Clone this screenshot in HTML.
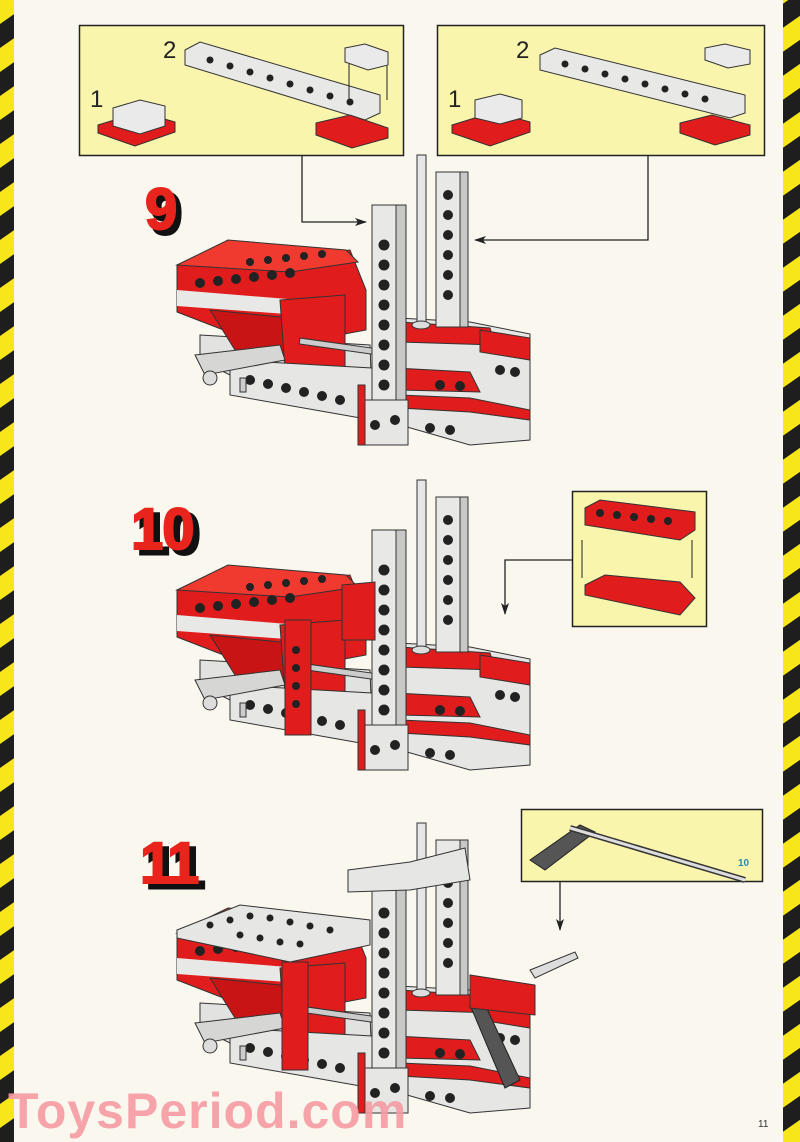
<!DOCTYPE html>
<html><head><meta charset="utf-8"><style>
html,body{margin:0;padding:0;width:800px;height:1142px;overflow:hidden;background:#f9f7ee;}
svg{display:block}
</style></head><body>
<svg width="800" height="1142" viewBox="0 0 800 1142" xmlns="http://www.w3.org/2000/svg" font-family="Liberation Sans, sans-serif">
<defs>
<pattern id="hz" width="14" height="48" patternUnits="userSpaceOnUse" patternTransform="skewY(-35)">
<rect width="14" height="48" fill="#f6e61a"/><rect y="24" width="14" height="24" fill="#1e1e1e"/>
</pattern>
<marker id="ar" markerWidth="12" markerHeight="8" refX="11" refY="4" orient="auto" markerUnits="userSpaceOnUse"><path d="M0,0 L12,4 L0,8 L3,4z" fill="#222"/></marker>
<g id="model">
 <polygon points="200,335 370,345 372,400 230,375 200,360" fill="#e2e2e0" stroke="#333" stroke-width="1"/>
 <polygon points="177,265 350,250 366,290 366,330 270,348 177,312" fill="#e01c1c" stroke="#333" stroke-width="1"/>
 <polygon points="177,265 228,240 346,250 358,262 290,272" fill="#f03a30" stroke="#333" stroke-width="1"/>
 <polygon points="177,290 300,300 300,315 177,306" fill="#e8e8e6"/>
 <polygon points="210,310 290,318 300,355 235,350" fill="#c81414" stroke="#333" stroke-width="1"/>
 <polygon points="280,300 345,295 345,368 285,370" fill="#e01c1c" stroke="#333" stroke-width="1"/>
 <polygon points="230,360 372,368 372,420 230,395" fill="#e6e6e4" stroke="#333" stroke-width="1"/>
 <g fill="#222">
  <circle cx="200" cy="283" r="5"/><circle cx="218" cy="281" r="5"/><circle cx="236" cy="279" r="5"/><circle cx="254" cy="277" r="5"/><circle cx="272" cy="275" r="5"/><circle cx="290" cy="273" r="5"/>
  <circle cx="250" cy="262" r="4"/><circle cx="268" cy="260" r="4"/><circle cx="286" cy="258" r="4"/><circle cx="304" cy="256" r="4"/><circle cx="322" cy="254" r="4"/>
  <circle cx="250" cy="380" r="5"/><circle cx="268" cy="384" r="5"/><circle cx="286" cy="388" r="5"/><circle cx="304" cy="392" r="5"/><circle cx="322" cy="396" r="5"/><circle cx="340" cy="400" r="5"/>
 </g>
 <polygon points="195,355 280,345 285,360 205,375" fill="#d6d6d4" stroke="#333"/>
 <circle cx="210" cy="378" r="7" fill="#ddd" stroke="#333"/>
 <rect x="240" y="378" width="6" height="14" fill="#ccc" stroke="#333"/>
 <rect x="300" y="338" width="80" height="6" fill="#ccc" stroke="#333" transform="rotate(8 300 338)"/>
 <polygon points="398,318 470,322 530,334 530,440 470,445 400,425" fill="#e6e6e4" stroke="#333" stroke-width="1"/>
 <polygon points="400,322 490,328 495,345 400,342" fill="#e01c1c" stroke="#333"/>
 <polygon points="480,330 530,338 530,360 480,352" fill="#e01c1c" stroke="#333"/>
 <polygon points="395,368 470,372 480,392 400,390" fill="#e01c1c" stroke="#333"/>
 <polygon points="400,395 470,398 530,410 530,420 470,412 400,408" fill="#e01c1c" stroke="#333"/>
 <g fill="#222"><circle cx="440" cy="385" r="5"/><circle cx="460" cy="386" r="5"/><circle cx="500" cy="370" r="5"/><circle cx="515" cy="372" r="5"/><circle cx="430" cy="428" r="5"/><circle cx="450" cy="430" r="5"/></g>
 <rect x="436" y="172" width="32" height="155" fill="#e8e8e6" stroke="#333"/>
 <rect x="460" y="172" width="8" height="155" fill="#c8c8c6" stroke="#333"/>
 <g fill="#222"><circle cx="448" cy="195" r="5"/><circle cx="448" cy="215" r="5"/><circle cx="448" cy="235" r="5"/><circle cx="448" cy="255" r="5"/><circle cx="448" cy="275" r="5"/><circle cx="448" cy="295" r="5"/></g>
 <rect x="417" y="155" width="9" height="170" fill="#e6e6e6" stroke="#333"/>
 <ellipse cx="421" cy="325" rx="9" ry="4" fill="#ddd" stroke="#333"/>
 <rect x="372" y="205" width="32" height="240" fill="#e8e8e6" stroke="#333"/>
 <rect x="396" y="205" width="10" height="240" fill="#c8c8c6" stroke="#333"/>
 <g fill="#222"><circle cx="384" cy="245" r="5.5"/><circle cx="384" cy="265" r="5.5"/><circle cx="384" cy="285" r="5.5"/><circle cx="384" cy="305" r="5.5"/><circle cx="384" cy="325" r="5.5"/><circle cx="384" cy="345" r="5.5"/><circle cx="384" cy="365" r="5.5"/><circle cx="384" cy="385" r="5.5"/></g>
 <rect x="358" y="400" width="50" height="45" fill="#e6e6e4" stroke="#333"/>
 <rect x="358" y="385" width="7" height="60" fill="#e01c1c" stroke="#333"/>
 <circle cx="375" cy="425" r="5" fill="#222"/><circle cx="395" cy="420" r="5" fill="#222"/>
</g>
</defs>

<rect x="0" y="0" width="14" height="1142" fill="url(#hz)"/>
<rect x="783" y="0" width="17" height="1142" fill="url(#hz)"/>

<rect x="79.5" y="25.5" width="324" height="130" fill="#faf5ad" stroke="#222" stroke-width="1.5"/>
<rect x="437.5" y="25.5" width="327" height="130" fill="#faf5ad" stroke="#222" stroke-width="1.5"/>
<rect x="572.5" y="491.5" width="134" height="135" fill="#faf5ad" stroke="#222" stroke-width="1.5"/>
<rect x="521.5" y="809.5" width="241" height="72" fill="#faf5ad" stroke="#222" stroke-width="1.5"/>

<text x="90" y="107" font-size="24" fill="#222">1</text>
<text x="163" y="58" font-size="24" fill="#222">2</text>
<polygon points="98,125 140,112 175,122 175,132 135,146 98,133" fill="#e01c1c" stroke="#333"/>
<polygon points="113,108 140,100 165,106 165,126 140,134 113,126" fill="#eaeaea" stroke="#333"/>
<polygon points="185,50 200,42 380,95 380,113 365,120 185,65" fill="#e8e8e6" stroke="#333"/>
<g fill="#222"><circle cx="210" cy="60" r="3.5"/><circle cx="230" cy="66" r="3.5"/><circle cx="250" cy="72" r="3.5"/><circle cx="270" cy="78" r="3.5"/><circle cx="290" cy="84" r="3.5"/><circle cx="310" cy="90" r="3.5"/><circle cx="330" cy="96" r="3.5"/><circle cx="350" cy="102" r="3.5"/></g>
<polygon points="316,123 350,115 388,128 388,138 352,148 316,135" fill="#e01c1c" stroke="#333"/>
<polygon points="345,48 365,44 388,52 388,65 368,70 345,62" fill="#eaeaea" stroke="#333"/>
<line x1="387" y1="66" x2="387" y2="100" stroke="#222"/>
<line x1="349" y1="64" x2="349" y2="100" stroke="#222"/>
<text x="448" y="107" font-size="24" fill="#222">1</text>
<text x="516" y="58" font-size="24" fill="#222">2</text>
<polygon points="452,125 494,112 530,122 530,132 490,146 452,133" fill="#e01c1c" stroke="#333"/>
<polygon points="475,100 500,94 522,100 522,118 500,124 475,118" fill="#eaeaea" stroke="#333"/>
<polygon points="540,55 555,48 745,95 745,113 730,118 540,70" fill="#e8e8e6" stroke="#333"/>
<g fill="#222"><circle cx="565" cy="64" r="3.5"/><circle cx="585" cy="69" r="3.5"/><circle cx="605" cy="74" r="3.5"/><circle cx="625" cy="79" r="3.5"/><circle cx="645" cy="84" r="3.5"/><circle cx="665" cy="89" r="3.5"/><circle cx="685" cy="94" r="3.5"/><circle cx="705" cy="99" r="3.5"/></g>
<polygon points="680,123 712,115 750,125 750,135 715,145 680,133" fill="#e01c1c" stroke="#333"/>
<polygon points="705,48 725,44 750,50 750,64 728,68 705,60" fill="#eaeaea" stroke="#333"/>
<polygon points="585,508 600,500 695,512 695,530 680,540 585,525" fill="#e01c1c" stroke="#333"/>
<g fill="#222"><circle cx="600" cy="513" r="4"/><circle cx="617" cy="515" r="4"/><circle cx="634" cy="517" r="4"/><circle cx="651" cy="519" r="4"/><circle cx="668" cy="521" r="4"/></g>
<polygon points="585,585 605,575 680,582 695,598 680,615 585,595" fill="#e01c1c" stroke="#333"/>
<line x1="582" y1="540" x2="582" y2="578" stroke="#222"/><line x1="692" y1="540" x2="692" y2="578" stroke="#222"/>
<polygon points="530,860 580,825 595,832 545,870" fill="#555" stroke="#222"/>
<line x1="570" y1="828" x2="745" y2="880" stroke="#333" stroke-width="6"/>
<line x1="570" y1="828" x2="745" y2="880" stroke="#ddd" stroke-width="3"/>
<text x="738" y="866" font-size="10" fill="#2a8ab0" font-weight="bold">10</text>

<polyline points="302,155 302,222 366,222" fill="none" stroke="#222" stroke-width="1.3" marker-end="url(#ar)"/>
<polyline points="648,155 648,240 475,240" fill="none" stroke="#222" stroke-width="1.3" marker-end="url(#ar)"/>
<polyline points="572,560 505,560 505,614" fill="none" stroke="#222" stroke-width="1.3" marker-end="url(#ar)"/>
<polyline points="560,881 560,930" fill="none" stroke="#222" stroke-width="1.3" marker-end="url(#ar)"/>

<text x="150" y="234" font-size="58" font-weight="bold" fill="#111" stroke="#111" stroke-width="3">9</text>
<text x="145" y="229" font-size="58" font-weight="bold" fill="#e8241c" stroke="#e8241c" stroke-width="2">9</text>
<text x="137" y="554" font-size="58" font-weight="bold" fill="#111" stroke="#111" stroke-width="3" letter-spacing="-1">10</text>
<text x="131" y="549" font-size="58" font-weight="bold" fill="#e8241c" stroke="#e8241c" stroke-width="2" letter-spacing="-1">10</text>
<text x="146" y="888" font-size="58" font-weight="bold" fill="#111" stroke="#111" stroke-width="3" letter-spacing="-2">11</text>
<text x="140" y="883" font-size="58" font-weight="bold" fill="#e8241c" stroke="#e8241c" stroke-width="2" letter-spacing="-2">11</text>

<use href="#model"/>
<use href="#model" transform="translate(0,325)"/>
<rect x="285" y="620" width="26" height="115" fill="#e01c1c" stroke="#333"/>
<g fill="#222"><circle cx="296" cy="650" r="4"/><circle cx="296" cy="668" r="4"/><circle cx="296" cy="686" r="4"/><circle cx="296" cy="704" r="4"/></g>
<polygon points="342,585 375,582 375,640 342,640" fill="#e01c1c" stroke="#333"/>
<use href="#model" transform="translate(0,668)"/>
<polygon points="177,930 240,905 370,920 370,945 290,962 177,938" fill="#e6e6e4" stroke="#333"/>
<g fill="#222"><circle cx="210" cy="925" r="3.5"/><circle cx="230" cy="920" r="3.5"/><circle cx="250" cy="916" r="3.5"/><circle cx="270" cy="918" r="3.5"/><circle cx="290" cy="922" r="3.5"/><circle cx="310" cy="926" r="3.5"/><circle cx="330" cy="930" r="3.5"/><circle cx="240" cy="935" r="3.5"/><circle cx="260" cy="938" r="3.5"/><circle cx="280" cy="942" r="3.5"/><circle cx="300" cy="944" r="3.5"/></g>
<rect x="282" y="962" width="26" height="108" fill="#e01c1c" stroke="#333"/>
<polygon points="348,870 410,862 465,848 470,880 410,890 348,892" fill="#e6e6e4" stroke="#333"/>
<polygon points="530,970 575,952 578,958 535,978" fill="#ddd" stroke="#333"/>
<polygon points="470,1005 482,998 520,1080 505,1088" fill="#555" stroke="#222"/>
<polygon points="470,975 535,985 535,1015 470,1008" fill="#e01c1c" stroke="#333"/>

<text x="8" y="1128" font-size="50" font-weight="bold" fill="#f59aa2" fill-opacity="0.9" letter-spacing="1">ToysPeriod.com</text>
<text x="758" y="1127" font-size="10" fill="#333">11</text>
</svg>
</body></html>
